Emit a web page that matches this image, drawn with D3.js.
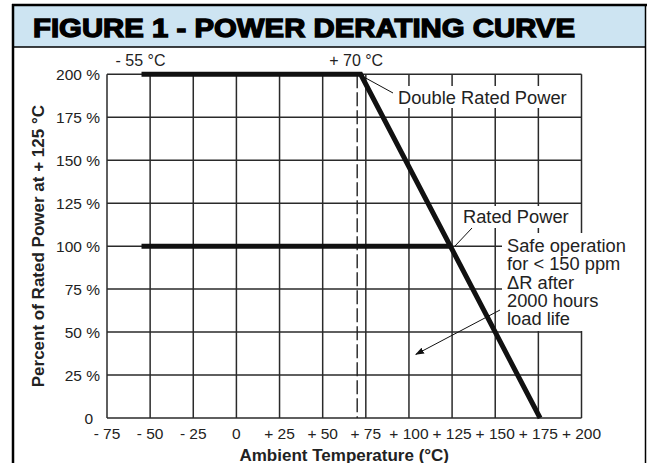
<!DOCTYPE html>
<html>
<head>
<meta charset="utf-8">
<script src="https://cdn.jsdelivr.net/npm/d3@7"></script>
<style>
  html, body { margin: 0; padding: 0; background: #fff; }
  svg { display: block; font-family: "Liberation Sans", Arial, sans-serif; }
</style>
</head>
<body>
<div id="chart"></div>
<script>
// chart values
const tempTicks = [-75, -50, -25, 0, 25, 50, 75, 100, 125, 150, 175, 200];
const tempLabels = ["- 75", "- 50", "- 25", "0", "+ 25", "+ 50", "+ 75", "+ 100", "+ 125", "+ 150", "+ 175", "+ 200"];
const pctTicks = [0, 25, 50, 75, 100, 125, 150, 175, 200];
const pctLabels = ["0", "25 %", "50 %", "75 %", "100 %", "125 %", "150 %", "175 %", "200 %"];
// [temperature °C, percent of rated power]
const doubleRatedCurve = [[-55, 200], [72, 200], [176, 0]];
const ratedCurve = [[-55, 100], [125, 100]];
const markerTemps = [-55, 70];
const markerLabels = ["- 55 °C", "+ 70 °C"];
const safeLines = ["Safe operation", "for < 150 ppm", "\u0394R after", "2000 hours", "load life"];

function drawChart() {
  const W = 648, H = 463;
  const svg = d3.select("#chart").append("svg")
    .attr("width", W)
    .attr("height", H);

  const x = d3.scaleLinear().domain([-75, 200]).range([107, 581.5]);
  const y = d3.scaleLinear().domain([0, 200]).range([418, 74.3]);

  // title band + frame
  svg.append("rect")
    .attr("x", 13).attr("y", 5).attr("width", 632).attr("height", 42)
    .attr("fill", "#cde4f2");
  svg.append("line").attr("x1", 13).attr("x2", 646).attr("y1", 47).attr("y2", 47)
    .attr("stroke", "#000").attr("stroke-width", 1.5);
  svg.append("line").attr("x1", 12).attr("x2", 647).attr("y1", 5).attr("y2", 5)
    .attr("stroke", "#000").attr("stroke-width", 2.5);
  svg.append("line").attr("x1", 13).attr("x2", 13).attr("y1", 4).attr("y2", H)
    .attr("stroke", "#000").attr("stroke-width", 2.5);
  svg.append("line").attr("x1", 645.5).attr("x2", 645.5).attr("y1", 4).attr("y2", H)
    .attr("stroke", "#000").attr("stroke-width", 1.5);

  svg.append("text")
    .attr("x", 33).attr("y", 37)
    .attr("textLength", 542).attr("lengthAdjust", "spacingAndGlyphs")
    .attr("font-size", 26).attr("font-weight", 900)
    .attr("stroke", "#000").attr("stroke-width", 1.3)
    .attr("fill", "#000")
    .text("FIGURE 1 - POWER DERATING CURVE");

  // grid
  const grid = svg.append("g").attr("stroke", "#2a2a2a").attr("stroke-width", 1.5);
  grid.selectAll("line.v").data(tempTicks).join("line")
    .attr("class", "v")
    .attr("x1", d => x(d)).attr("x2", d => x(d))
    .attr("y1", y(0)).attr("y2", y(200));
  grid.selectAll("line.h").data(pctTicks).join("line")
    .attr("class", "h")
    .attr("x1", x(-75)).attr("x2", x(200))
    .attr("y1", d => y(d)).attr("y2", d => y(d));

  // dashed marker at +70 °C
  svg.append("line")
    .attr("x1", x(70)).attr("x2", x(70))
    .attr("y1", y(200)).attr("y2", y(0))
    .attr("stroke", "#222").attr("stroke-width", 1.4)
    .attr("stroke-dasharray", "14,4");

  // white label boxes over the grid
  const boxes = [
    {x0: 395, y0: 86, x1: 575, y1: 108},
    {x0: 458, y0: 206, x1: 577, y1: 228},
    {x0: 502, y0: 233, x1: 637, y1: 331}
  ];
  svg.selectAll("rect.box").data(boxes).join("rect")
    .attr("class", "box")
    .attr("x", d => d.x0).attr("y", d => d.y0)
    .attr("width", d => d.x1 - d.x0).attr("height", d => d.y1 - d.y0)
    .attr("fill", "#fff");

  // curves
  const line = d3.line().x(d => x(d[0])).y(d => y(d[1]));
  svg.selectAll("path.curve").data([doubleRatedCurve, ratedCurve]).join("path")
    .attr("class", "curve")
    .attr("d", line)
    .attr("fill", "none")
    .attr("stroke", "#111")
    .attr("stroke-width", 5)
    .attr("stroke-linejoin", "miter");

  // axis tick labels
  svg.append("g").selectAll("text").data(tempTicks).join("text")
    .attr("x", d => x(d))
    .attr("y", 438.5)
    .attr("text-anchor", "middle")
    .attr("font-size", 15.5)
    .attr("fill", "#222")
    .text((d, i) => tempLabels[i]);

  svg.append("g").selectAll("text").data(pctTicks).join("text")
    .attr("x", d => d === 0 ? 93 : 100)
    .attr("y", d => y(d) + 5.5)
    .attr("text-anchor", "end")
    .attr("font-size", 15.5)
    .attr("fill", "#222")
    .text((d, i) => pctLabels[i]);

  // axis titles
  svg.append("text")
    .attr("x", (x(-75) + x(200)) / 2).attr("y", 460.5)
    .attr("text-anchor", "middle")
    .attr("font-size", 17).attr("font-weight", "bold")
    .attr("fill", "#222")
    .text("Ambient Temperature (°C)");

  svg.append("text")
    .attr("transform", `translate(44,${(y(0) + y(200)) / 2}) rotate(-90)`)
    .attr("text-anchor", "middle")
    .attr("font-size", 17).attr("font-weight", "bold")
    .attr("fill", "#222")
    .text("Percent of Rated Power at + 125 °C");

  // temperature markers above the plot
  svg.append("g").selectAll("text").data(markerTemps).join("text")
    .attr("x", d => x(d) - 1)
    .attr("y", 66)
    .attr("text-anchor", "middle")
    .attr("font-size", 16)
    .attr("fill", "#222")
    .text((d, i) => markerLabels[i]);

  // annotations
  const ann = svg.append("g").attr("font-size", 18.3).attr("fill", "#222");
  ann.append("text").attr("x", 398).attr("y", 104).text("Double Rated Power");
  ann.append("text").attr("x", 463).attr("y", 223).text("Rated Power");
  ann.append("text").selectAll("tspan").data(safeLines).join("tspan")
    .attr("x", 507)
    .attr("y", (d, i) => 252 + i * 18.3)
    .text(d => d);

  const leaders = svg.append("g").attr("stroke", "#111").attr("stroke-width", 1);
  leaders.append("line").attr("x1", 393).attr("y1", 93).attr("x2", 362).attr("y2", 76);
  leaders.append("line").attr("x1", 472).attr("y1", 228).attr("x2", 455).attr("y2", 246);

  svg.append("defs").append("marker")
    .attr("id", "arrow")
    .attr("viewBox", "0 0 10 10")
    .attr("refX", 9).attr("refY", 5)
    .attr("markerWidth", 9).attr("markerHeight", 9)
    .attr("markerUnits", "userSpaceOnUse")
    .attr("orient", "auto")
    .append("path")
    .attr("d", "M0,1.5 L10,5 L0,8.5 Z")
    .attr("fill", "#111");

  svg.append("line")
    .attr("x1", 500).attr("y1", 310)
    .attr("x2", x(104)).attr("y2", y(37))
    .attr("stroke", "#111").attr("stroke-width", 1)
    .attr("marker-end", "url(#arrow)");
}

drawChart();
</script>
</body>
</html>
